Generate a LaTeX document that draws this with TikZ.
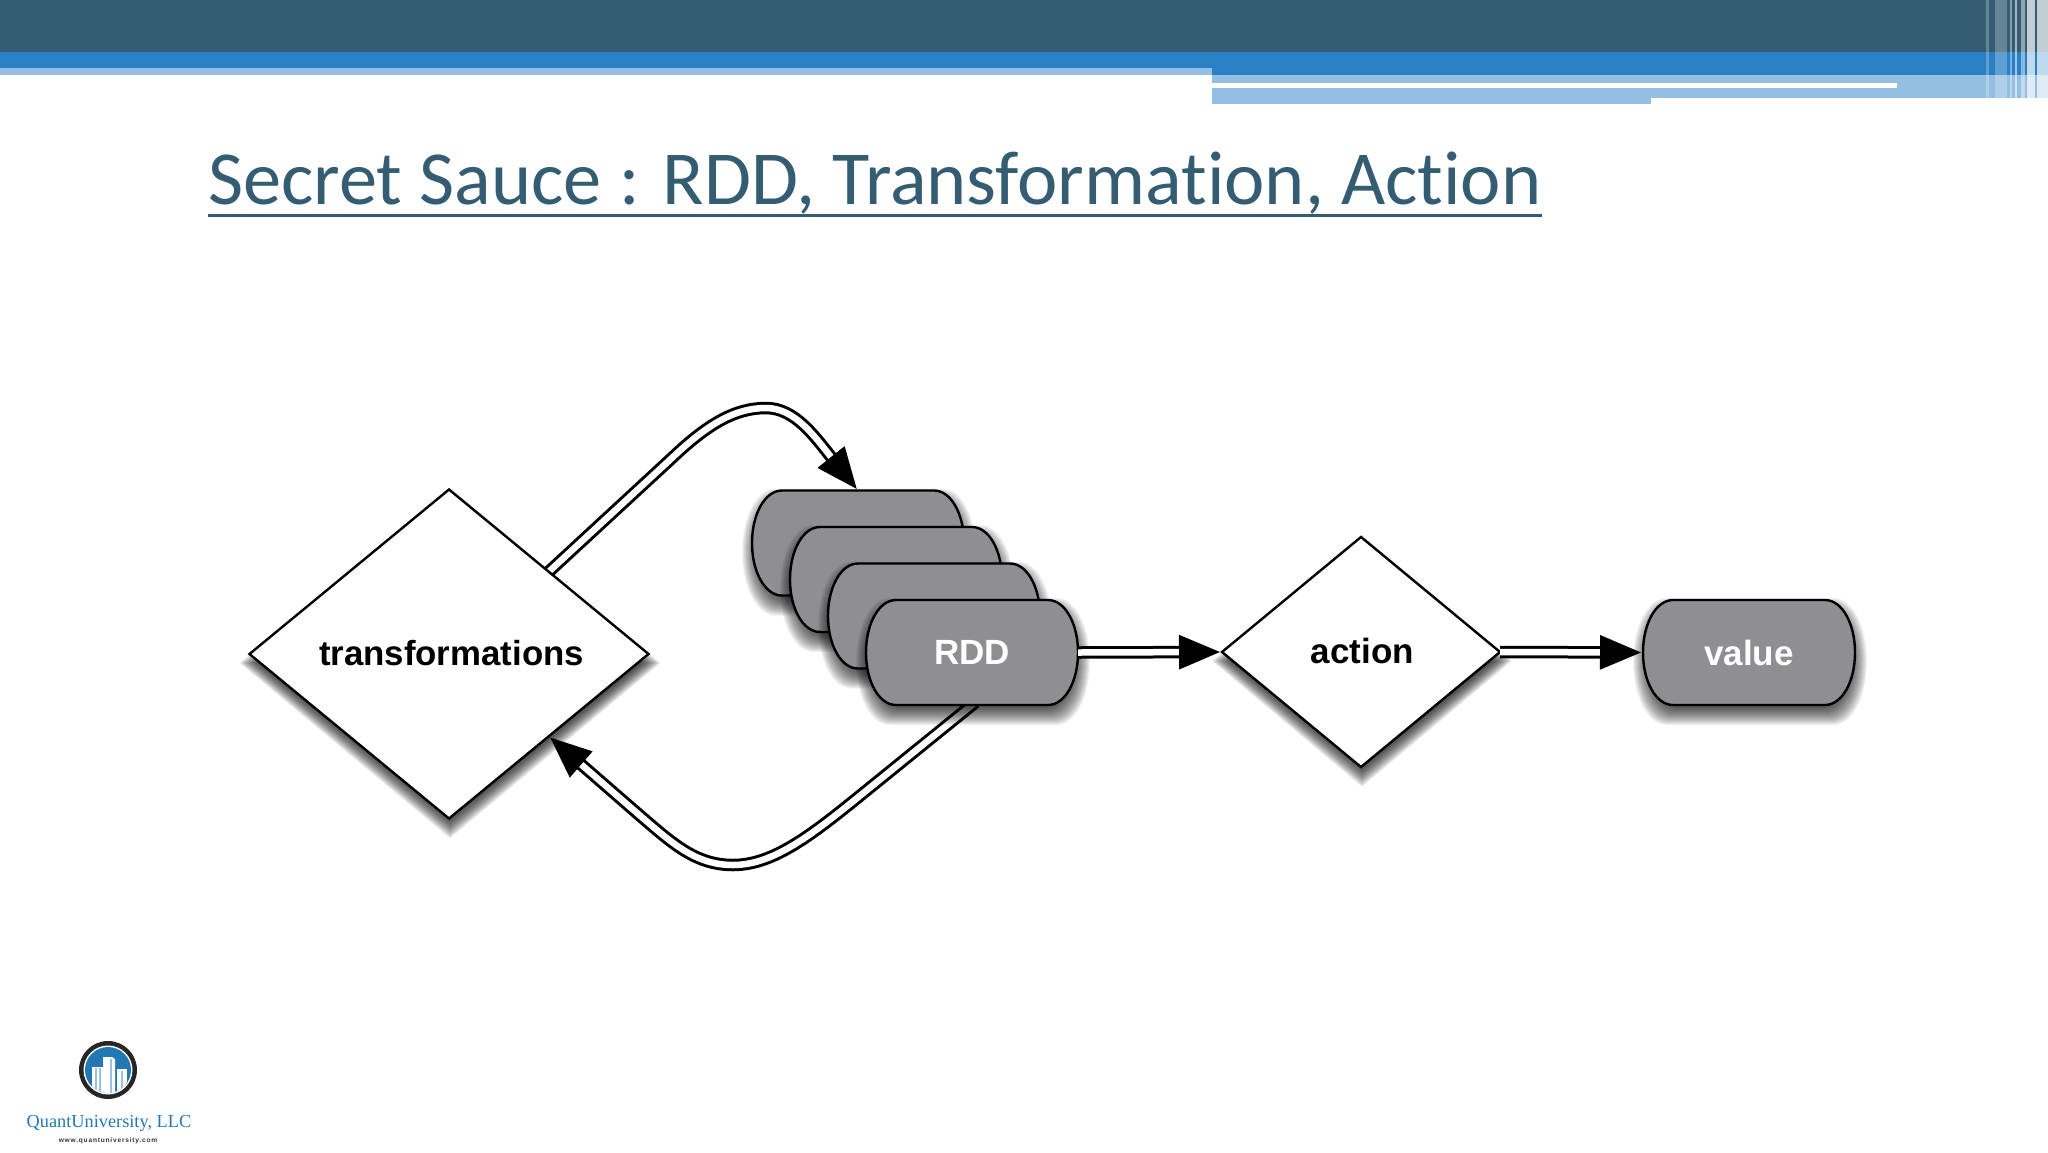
\documentclass[tikz,border=0pt]{standalone}
\usepackage{fontspec}
\setmainfont{Liberation Sans}
\newfontfamily\titlefont[Ligatures=NoCommon]{Carlito}
\newfontfamily\logofont{Liberation Serif}
\newfontfamily\urlfont[LetterSpace=12]{Liberation Sans}
\usetikzlibrary{calc,shapes.geometric,arrows.meta,backgrounds}
\definecolor{barDark}{HTML}{345C72}
\definecolor{barBlue}{HTML}{2A80C4}
\definecolor{barLight}{HTML}{94BFE2}
\definecolor{pillGrey}{HTML}{8F8E91}
\definecolor{logoBlue}{HTML}{2278B5}
\def\pillpath{(-106,0) .. controls (-106,-29) and (-93,-52.5) .. (-76,-52.5) -- (76,-52.5) .. controls (93,-52.5) and (106,-29) .. (106,0) .. controls (106,29) and (93,52.5) .. (76,52.5) -- (-76,52.5) .. controls (-93,52.5) and (-106,29) .. (-106,0) -- cycle}
\def\diamondpath{(-1,0) -- (0,-1) -- (1,0) -- (0,1) -- cycle}
\newcommand\softshadow[3]{% halfw halfh path
  \foreach \sd in {-8,-7,...,11}{%
    \pgfmathsetmacro\sx{(#1+\sd)/#1}%
    \pgfmathsetmacro\sy{(#2+\sd)/#2}%
    \fill[black,opacity=.055,yshift=-9pt,xshift=1pt,xscale=\sx,yscale=\sy] #3;}}
\newcommand\pillshape[2]{% cx, cy
  \begin{scope}[shift={(#1,#2)}]
    \softshadow{106}{52.5}{\pillpath}
    \draw[pilledge] \pillpath;
  \end{scope}}
\newcommand\diamondshadow[4]{% cx cy halfw halfh
  \begin{scope}[shift={(#1,#2)},x=#3pt,y=#4pt]
    \softshadow{#3}{#4}{\diamondpath}
  \end{scope}}
\tikzset{
  pilledge/.style={draw=black,fill=pillGrey,line width=2.4pt},
  pillbox/.style={rectangle,minimum width=212pt,minimum height=105pt,inner sep=0pt,outer sep=0pt,text=white,font=\fontsize{35}{40}\selectfont\bfseries},
  choice/.style={diamond,draw=black,fill=white,line width=2.4pt,inner sep=0pt,outer sep=0pt,text=black,font=\fontsize{35}{40}\selectfont\bfseries},
  flow/.style={draw=black,double=white,double distance=6.5pt,line width=3pt,line cap=butt,shorten >=2pt,-{Triangle[length=41pt,width=34pt,fill=black]}}
}
\begin{document}
\begin{tikzpicture}[x=1pt,y=-1pt]
\useasboundingbox (0,0) rectangle (2048,1152);
% header
\fill[barDark] (0,0) rectangle (2048,52);
\fill[barBlue] (0,52) rectangle (2048,75);
\fill[barLight] (0,68) rectangle (1212,75);
\fill[barLight] (1212,75) rectangle (2048,98);
\fill[barLight] (1212,98) rectangle (1651,104);
\fill[white] (1212,83) rectangle (1897,88);
\fill[white,opacity=.25] (1986,0) rectangle (1989,98);
\fill[white,opacity=.25] (1995,0) rectangle (2007,98);
\fill[white,opacity=.4] (2010,0) rectangle (2012,104);
\fill[white,opacity=.55] (2015,0) rectangle (2017,104);
\fill[white,opacity=.45] (2021,0) rectangle (2025,104);
\fill[white,opacity=.7] (2027,0) rectangle (2035,104);
\fill[white,opacity=.7] (2037,0) rectangle (2048,104);
% title
\node[anchor=base west,inner sep=0pt,text=barDark,font=\titlefont\fontsize{76.4}{84}\selectfont] (title) at (208,204) {Secret Sauce : RDD, Transformation, Action};
\draw[barDark,line width=3.5pt] ($(title.base west)+(0,11.5)$) -- ($(title.base east)+(0,11.5)$);
% shapes
\diamondshadow{449}{654}{199.5}{164.5}
\node[choice,minimum width=399pt,minimum height=329pt,shape aspect=1.213] (trans) at (449,654) {\raisebox{3pt}{\hspace*{5pt}\fontsize{34.8}{40}\selectfont transformations}};
\pillshape{858}{543}
\node[pillbox] (rdda) at (858,543) {};
\pillshape{896}{579.5}
\node[pillbox] (rddb) at (896,579.5) {};
\pillshape{934}{616}
\node[pillbox] (rddc) at (934,616) {};
\pillshape{972}{652.5}
\node[pillbox] (rddd) at (972,652.5) {RDD};
\diamondshadow{1361}{652}{139}{115}
\node[choice,minimum width=278pt,minimum height=230pt,shape aspect=1.209] (act) at (1361,652) {\raisebox{3pt}{\hspace*{3pt}action}};
\pillshape{1749}{652.5}
\node[pillbox] (val) at (1749,652.5) {value};
% connectors
\begin{scope}[on background layer]
\draw[flow,shorten <=-4pt] (trans.north east) -- (673,457) .. controls (708,424) and (735,408) .. (766,408) .. controls (795,408) and (815,437) .. (rdda.north);
\draw[flow,shorten <=-4pt] (rddd.south) -- (851,803) .. controls (805,840) and (770,865) .. (733,865) .. controls (695,865) and (672,843) .. (637,813) -- (trans.south east);
\end{scope}
\draw[flow] (rddd.east) -- (act.west);
\draw[flow] (act.east) -- (val.west);
% logo
\fill[black!85] (108,1070) circle (29);
\fill[white] (108,1070) circle (24.5);
\fill[logoBlue] (108,1070) circle (23);
\begin{scope}
\clip (108,1070) circle (23);
\fill[white] (92,1067) rectangle (103,1095);
\fill[white] (103,1057) -- (112,1057) -- (115,1059) -- (115,1095) -- (103,1095) -- cycle;
\fill[white] (117,1069) rectangle (127,1095);
\fill[logoBlue!45] (95,1068) rectangle (97,1095);
\fill[logoBlue!45] (99,1068) rectangle (101,1095);
\fill[logoBlue!45] (110,1059) rectangle (112,1095);
\fill[logoBlue!45] (121,1071) rectangle (123,1095);
\end{scope}
\node[anchor=base,inner sep=0pt,text=logoBlue,font=\logofont\fontsize{18.3}{24}\selectfont] (logoname) at (109,1127) {QuantUniversity, LLC};
\node[anchor=base,inner sep=0pt,text=black!80,font=\urlfont\fontsize{6.6}{9}\selectfont\bfseries] (logourl) at (108,1142) {www.quantuniversity.com};
\end{tikzpicture}
\end{document}
